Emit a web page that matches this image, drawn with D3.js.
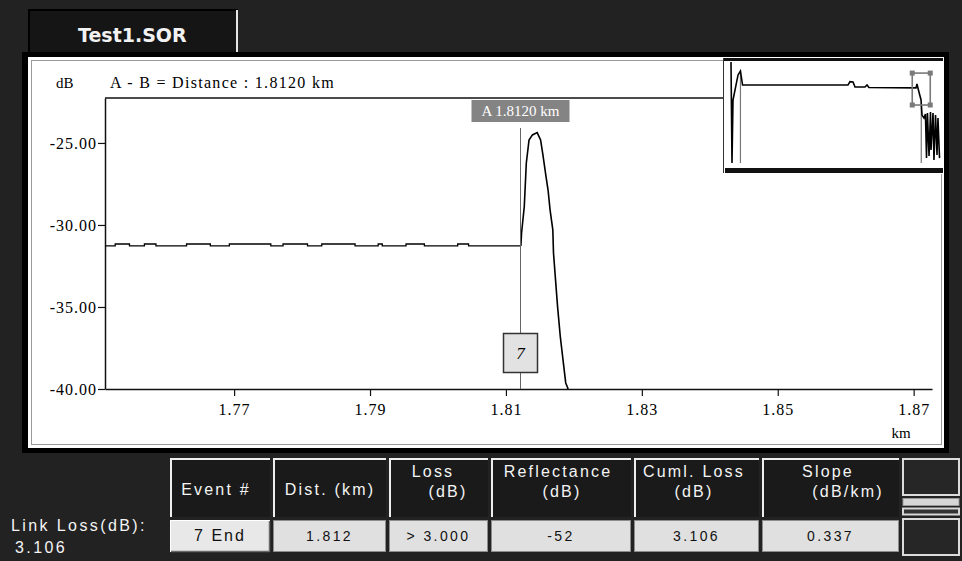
<!DOCTYPE html>
<html>
<head>
<meta charset="utf-8">
<script src="https://cdn.jsdelivr.net/npm/d3@7"></script>
<style>
html, body { margin: 0; padding: 0; background: #222; }
svg { display: block; }
</style>
</head>
<body>
<svg id="chart" width="962" height="561"></svg>
<script>
// trace values
const yTicks = [-25, -30, -35, -40];
const xTicks = [1.77, 1.79, 1.81, 1.83, 1.85, 1.87];

// fiber level before the end event (step line)
const flatKm = [1.7510, 1.7525, 1.7546, 1.7568, 1.7585, 1.7630, 1.7665, 1.7693, 1.7754, 1.7772,
                1.7808, 1.7829, 1.7878, 1.7912, 1.7918, 1.7953, 1.7980, 1.8029, 1.8045, 1.8122];
const flatDb = [-31.28, -31.16, -31.28, -31.16, -31.28, -31.16, -31.28, -31.16, -31.28, -31.16,
                -31.28, -31.16, -31.28, -31.16, -31.28, -31.16, -31.28, -31.16, -31.28, -31.28];

// end reflection
const pulseKm = [1.8122, 1.8123, 1.8127, 1.8130, 1.8134, 1.8139, 1.8146, 1.8151, 1.8154, 1.8159, 1.8162,
                 1.8165, 1.8169, 1.8170, 1.8173, 1.8176, 1.8180, 1.8184, 1.8188, 1.8191, 1.8195];
const pulseDb = [-31.28, -30.49, -28.88, -26.22, -24.82, -24.51, -24.37, -24.82, -25.61, -27.06, -27.87,
                 -29.09, -30.30, -31.71, -33.35, -34.98, -36.81, -38.23, -39.63, -39.94, -41.0];

// full-length overview trace (inset)
const overviewKm = [0, 0.0095, 0.019, 0.038, 0.067, 0.09, 0.11, 0.133, 1.114, 1.133, 1.162, 1.181, 1.276,
                    1.295, 1.314, 1.762, 1.771, 1.790, 1.810, 1.819, 1.838, 1.852, 1.862, 1.871, 1.886,
                    1.900, 1.905, 1.924, 1.933, 1.948, 1.962, 1.971, 1.986];
const overviewDb = [-16.1, -72.2, -37.2, -31.7, -23.3, -21.1, -28.9, -28.9, -28.9, -27.0, -27.2, -30.0, -30.0,
                    -28.9, -30.3, -30.5, -28.3, -32.8, -37.2, -45.6, -47.2, -45.0, -69.5, -44.4, -68.3,
                    -43.9, -65.0, -44.4, -70.6, -45.6, -67.8, -47.2, -69.5];
const overviewMarkersKm = [0.09, 1.812];

const markerKm = 1.812;
const markerLabel = "A 1.8120 km";
const distanceText = "A - B = Distance : 1.8120 km";
const eventLabel = "7";
const fileName = "Test1.SOR";

const tableHeaders = [["Event #"], ["Dist. (km)"], ["Loss", "(dB)"], ["Reflectance", "(dB)"], ["Cuml. Loss", "(dB)"], ["Slope", "(dB/km)"]];
const tableRow = ["7 End", "1.812", "> 3.000", "-52", "3.106", "0.337"];
const linkLossLabel = "Link Loss(dB):";
const linkLoss = "3.106";

const svg = d3.select("#chart");
const serif = "'Liberation Serif', 'Times New Roman', serif";
const sans = "'Liberation Sans', Arial, sans-serif";
const fmt2 = d => d.toFixed(2);   // plain hyphen minus, like the instrument

// background
svg.append("rect").attr("width", 962).attr("height", 561).attr("fill", "#222");

// file tab
svg.append("rect").attr("x", 29).attr("y", 10).attr("width", 208).attr("height", 44)
    .attr("fill", "#151515").attr("stroke", "#000").attr("stroke-width", 2);
svg.append("line").attr("x1", 237).attr("x2", 237).attr("y1", 10).attr("y2", 53)
    .attr("stroke", "#e6e6e6").attr("stroke-width", 2);
svg.append("text").attr("x", 78).attr("y", 42)
    .attr("font-family", "'DejaVu Sans', Verdana, sans-serif").attr("font-weight", "bold")
    .attr("font-size", 19).attr("fill", "#f2f2f2").text(fileName);

// trace panel
svg.append("rect").attr("x", 22).attr("y", 52).attr("width", 927).attr("height", 401).attr("fill", "#000");
svg.append("rect").attr("x", 28).attr("y", 57).attr("width", 916).attr("height", 391).attr("fill", "#fff");
svg.append("rect").attr("x", 31.5).attr("y", 60.5).attr("width", 910).attr("height", 384)
    .attr("fill", "none").attr("stroke", "#9a9a9a").attr("stroke-width", 1);

const x = d3.scaleLinear().domain([1.751, 1.8727]).range([105, 932]);
const y = d3.scaleLinear().domain([-40, -22.26]).range([389, 98]);

svg.append("defs").append("clipPath").attr("id", "plotClip")
    .append("rect").attr("x", 105).attr("y", 98).attr("width", 827).attr("height", 291);

// top frame line
svg.append("line").attr("x1", 105).attr("x2", 932).attr("y1", y(-22.26)).attr("y2", y(-22.26))
    .attr("stroke", "#111").attr("stroke-width", 1.5);

const xAxis = svg.append("g").attr("transform", `translate(0,${y(-40)})`)
    .call(d3.axisBottom(x).tickValues(xTicks).tickFormat(fmt2).tickSize(7).tickSizeOuter(0).tickPadding(8));
const yAxis = svg.append("g").attr("transform", `translate(${x(1.751)},0)`)
    .call(d3.axisLeft(y).tickValues(yTicks).tickFormat(fmt2).tickSize(7).tickSizeOuter(0).tickPadding(1));

[xAxis, yAxis].forEach(g => {
    g.select(".domain").attr("stroke", "#111").attr("stroke-width", 1.5);
    g.selectAll(".tick line").attr("stroke", "#111").attr("stroke-width", 1.2);
    g.selectAll(".tick text").attr("fill", "#000").attr("font-family", serif)
        .attr("font-size", 16).attr("letter-spacing", 1);
});

svg.append("text").attr("x", 901).attr("y", 438).attr("text-anchor", "middle")
    .attr("font-family", serif).attr("font-size", 15).attr("fill", "#000").text("km");
svg.append("text").attr("x", 56).attr("y", 88)
    .attr("font-family", serif).attr("font-size", 15).attr("fill", "#000").text("dB");
svg.append("text").attr("x", 110).attr("y", 88).attr("letter-spacing", 1.3)
    .attr("font-family", serif).attr("font-size", 16).attr("fill", "#000").text(distanceText);

// trace
const plot = svg.append("g").attr("clip-path", "url(#plotClip)");
const flatPts = flatKm.map((k, i) => ({ km: k, db: flatDb[i] }));
const pulsePts = pulseKm.map((k, i) => ({ km: k, db: pulseDb[i] }));

plot.append("path").datum(flatPts)
    .attr("d", d3.line().x(d => x(d.km)).y(d => y(d.db)).curve(d3.curveStepAfter))
    .attr("fill", "none").attr("stroke", "#000").attr("stroke-width", 1.3);
plot.append("path").datum(pulsePts)
    .attr("d", d3.line().x(d => x(d.km)).y(d => y(d.db)))
    .attr("fill", "none").attr("stroke", "#000").attr("stroke-width", 1.6);

// marker A
const mx = Math.round(x(markerKm)) + 0.5;
svg.append("line").attr("x1", mx).attr("x2", mx).attr("y1", 128).attr("y2", 334)
    .attr("stroke", "#666").attr("stroke-width", 1);
svg.append("line").attr("x1", mx).attr("x2", mx).attr("y1", 373).attr("y2", y(-40))
    .attr("stroke", "#666").attr("stroke-width", 1);
svg.append("rect").attr("x", mx - 49).attr("y", 100).attr("width", 98).attr("height", 22).attr("fill", "#848484");
svg.append("text").attr("x", mx).attr("y", 116).attr("text-anchor", "middle")
    .attr("font-family", serif).attr("font-size", 15).attr("fill", "#fff").text(markerLabel);

// event box
svg.append("rect").attr("x", mx - 17).attr("y", 333.5).attr("width", 34).attr("height", 39)
    .attr("fill", "#e2e2e2").attr("stroke", "#333").attr("stroke-width", 1.5);
svg.append("text").attr("x", mx).attr("y", 359).attr("text-anchor", "middle")
    .attr("font-family", serif).attr("font-style", "italic").attr("font-size", 17).attr("fill", "#000").text(eventLabel);

// overview inset
const ix = d3.scaleLinear().domain([0, 2.0]).range([731, 941]);
const iy = d3.scaleLinear().domain([-16.1, -75]).range([62, 168]);
const inset = svg.append("g");
inset.append("rect").attr("x", 723).attr("y", 58).attr("width", 220).attr("height", 116).attr("fill", "#fff");
svg.select("defs").append("clipPath").attr("id", "insetClip")
    .append("rect").attr("x", 724).attr("y", 61).attr("width", 218).attr("height", 107);

const ovPts = overviewKm.map((k, i) => ({ km: k, db: overviewDb[i] }));
const ovAt = km => {
    const i = d3.bisector(d => d.km).left(ovPts, km);
    const a = ovPts[Math.max(0, i - 1)], b = ovPts[Math.min(ovPts.length - 1, i)];
    if (a === b || b.km === a.km) return a.db;
    return a.db + (b.db - a.db) * (km - a.km) / (b.km - a.km);
};
const insetPlot = inset.append("g").attr("clip-path", "url(#insetClip)");
insetPlot.selectAll("line.ovm").data(overviewMarkersKm).enter().append("line").attr("class", "ovm")
    .attr("x1", d => ix(d)).attr("x2", d => ix(d))
    .attr("y1", d => iy(ovAt(d))).attr("y2", 163)
    .attr("stroke", "#777").attr("stroke-width", 1.2);
insetPlot.append("path").datum(ovPts)
    .attr("d", d3.line().x(d => ix(d.km)).y(d => iy(d.db)))
    .attr("fill", "none").attr("stroke", "#000").attr("stroke-width", 1.6);

// zoom window on the overview
const cx = ix((x.domain()[0] + x.domain()[1]) / 2);
const bx0 = cx - 9, bx1 = cx + 9, by0 = iy(y.domain()[1]), by1 = iy(y.domain()[0]);
inset.append("rect").attr("x", bx0).attr("y", by0).attr("width", bx1 - bx0).attr("height", by1 - by0)
    .attr("fill", "none").attr("stroke", "#7a7a7a").attr("stroke-width", 1.6);
inset.selectAll("rect.handle").data([[bx0, by0], [bx1, by0], [bx0, by1], [bx1, by1]]).enter()
    .append("rect").attr("class", "handle")
    .attr("x", d => d[0] - 2.5).attr("y", d => d[1] - 2.5).attr("width", 5).attr("height", 5)
    .attr("fill", "#7a7a7a");

inset.append("rect").attr("x", 723).attr("y", 58).attr("width", 220).attr("height", 3).attr("fill", "#111");
inset.append("rect").attr("x", 725).attr("y", 168).attr("width", 218).attr("height", 5).attr("fill", "#111");
inset.append("line").attr("x1", 723.5).attr("x2", 723.5).attr("y1", 58).attr("y2", 173)
    .attr("stroke", "#333").attr("stroke-width", 1);

// event table
const cols = [[170, 270], [273, 386], [389, 488], [491, 631], [634, 759], [762, 899]];
const headerLineX = [[216], [330], [433, 448], [558, 562], [694, 694], [828, 848]];
const table = svg.append("g").attr("font-family", sans);

cols.forEach((c, i) => {
    const w = c[1] - c[0];
    table.append("rect").attr("x", c[0]).attr("y", 458).attr("width", w).attr("height", 59).attr("fill", "#1a1a1a");
    table.append("line").attr("x1", c[0]).attr("x2", c[1]).attr("y1", 459).attr("y2", 459)
        .attr("stroke", "#eee").attr("stroke-width", 2);
    table.append("line").attr("x1", c[0] + 1).attr("x2", c[0] + 1).attr("y1", 458).attr("y2", 517)
        .attr("stroke", "#eee").attr("stroke-width", 2);
    const lines = tableHeaders[i];
    lines.forEach((t, j) => {
        table.append("text").attr("x", headerLineX[i][j]).attr("y", lines.length === 1 ? 495 : (j === 0 ? 477 : 497))
            .attr("text-anchor", "middle").attr("font-size", 16).attr("letter-spacing", 2.2)
            .attr("fill", "#f4f4f4").text(t);
    });

    // value row
    table.append("rect").attr("x", c[0] + 0.5).attr("y", 520.5).attr("width", w - 1).attr("height", 31)
        .attr("fill", i === 0 ? "#e8e8e8" : "#e0e0e0").attr("stroke", i === 0 ? "#fff" : "#8c8c8c");
    if (i === 0) {
        table.append("path").attr("d", `M${c[1] - 0.5},521V551.5H${c[0] + 1}`)
            .attr("fill", "none").attr("stroke", "#6a6a6a").attr("stroke-width", 1.5);
    }
    table.append("text").attr("x", (c[0] + c[1]) / 2).attr("y", 541).attr("text-anchor", "middle")
        .attr("font-size", i === 0 ? 16 : 14).attr("letter-spacing", i === 0 ? 2 : 2.4)
        .attr("fill", "#111").text(tableRow[i]);
});

table.append("text").attr("x", 11).attr("y", 531).attr("font-size", 16).attr("letter-spacing", 2.4)
    .attr("fill", "#f4f4f4").text(linkLossLabel);
table.append("text").attr("x", 15).attr("y", 553).attr("font-size", 16).attr("letter-spacing", 2.4)
    .attr("fill", "#f4f4f4").text(linkLoss);

// scroll buttons at the right of the table
const btn = svg.append("g");
btn.append("rect").attr("x", 903).attr("y", 459).attr("width", 56).attr("height", 36)
    .attr("fill", "#262626").attr("stroke", "#dcdcdc").attr("stroke-width", 2);
btn.append("rect").attr("x", 903).attr("y", 498.5).attr("width", 56).attr("height", 7)
    .attr("fill", "#d6d6d6").attr("stroke", "#999").attr("stroke-width", 1);
btn.append("rect").attr("x", 903).attr("y", 508.5).attr("width", 56).attr("height", 6)
    .attr("fill", "#333").attr("stroke", "#d6d6d6").attr("stroke-width", 2);
btn.append("rect").attr("x", 903).attr("y", 519).attr("width", 56).attr("height", 36)
    .attr("fill", "#262626").attr("stroke", "#dcdcdc").attr("stroke-width", 2);
</script>
</body>
</html>
